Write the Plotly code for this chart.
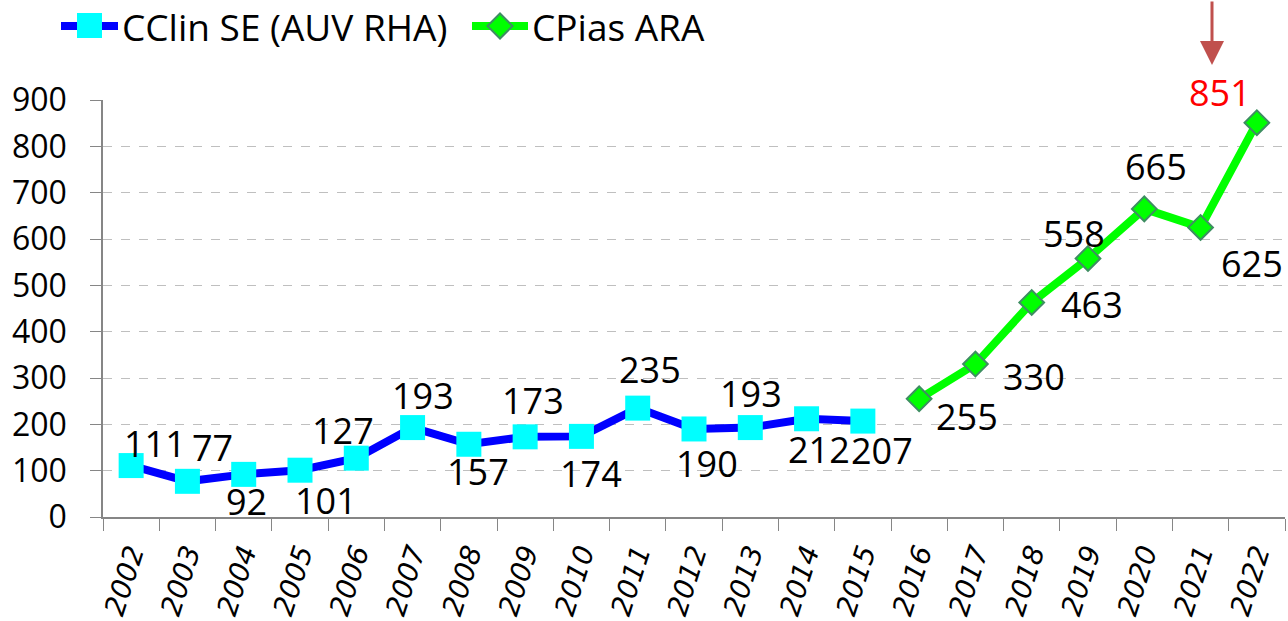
import plotly.graph_objects as go

years = [str(y) for y in range(2002, 2023)]
cclin_years = years[:14]
cclin_values = [111, 77, 92, 101, 127, 193, 157, 173, 174, 235, 190, 193, 212, 207]
cpias_years = years[14:]
cpias_values = [255, 330, 463, 558, 665, 625, 851]
y_ticks = [0, 100, 200, 300, 400, 500, 600, 700, 800, 900]

# label offsets in pixels (dx right, dy down) relative to the marker
cclin_offsets = [(24, -22), (25, -34), (3, 27), (26, 30), (-13, -28), (10, -32),
                 (9, 27), (8, -36), (10, 37), (12, -39), (13, 35), (1, -34),
                 (12, 31), (19, 29)]
cpias_offsets = [(48, 18), (59, 12), (60, 2), (-14, -25), (12, -42), (51, 36), (-37, -30)]

W, H = 1288, 621
L, R, T, B = 103, 3, 100, 104
PW, PH = W - L - R, H - T - B


def px(x):
    return (x - L) / PW


def py(y):
    return (H - B - y) / PH


FONT = "Open Sans"

fig = go.Figure()
fig.add_trace(go.Scatter(
    x=cclin_years, y=cclin_values, mode="lines+markers", name="CClin SE (AUV RHA)",
    line=dict(color="#0000FF", width=8),
    marker=dict(symbol="square", size=25, color="#00FFFF", line=dict(width=0)),
    showlegend=False, cliponaxis=False))
fig.add_trace(go.Scatter(
    x=cpias_years, y=cpias_values, mode="lines+markers", name="CPias ARA",
    line=dict(color="#00FF00", width=8),
    marker=dict(symbol="diamond", size=19, color="#00FF00", line=dict(width=2, color="#3E8E62")),
    showlegend=False, cliponaxis=False))

annotations = []
for xs, vs, offs in [(cclin_years, cclin_values, cclin_offsets), (cpias_years, cpias_values, cpias_offsets)]:
    for x, v, (dx, dy) in zip(xs, vs, offs):
        annotations.append(dict(
            x=years.index(x), y=v, xref="x", yref="y", text=str(v), showarrow=False,
            xshift=dx, yshift=-dy,
            font=dict(family=FONT, size=36, color="red" if v == 851 else "black")))

# manual legend
shapes = []
leg_y = 26
shapes.append(dict(type="line", xref="paper", yref="paper", x0=px(61), x1=px(118), y0=py(leg_y), y1=py(leg_y),
                   line=dict(color="#0000FF", width=8), layer="above"))
shapes.append(dict(type="rect", xref="paper", yref="paper", x0=px(77), x1=px(102), y0=py(13), y1=py(38),
                   fillcolor="#00FFFF", line=dict(width=0), layer="above"))
annotations.append(dict(x=px(120), y=py(leg_y), xref="paper", yref="paper", xanchor="left", yanchor="middle",
                        text="CClin SE (AUV RHA)", showarrow=False, font=dict(family=FONT, size=37, color="black")))
shapes.append(dict(type="line", xref="paper", yref="paper", x0=px(472), x1=px(528), y0=py(leg_y), y1=py(leg_y),
                   line=dict(color="#00FF00", width=8), layer="above"))
cx, cy, hw = 500, leg_y, 12.5
shapes.append(dict(type="path", xref="paper", yref="paper",
                   path=f"M {px(cx - hw)} {py(cy)} L {px(cx)} {py(cy - hw)} L {px(cx + hw)} {py(cy)} L {px(cx)} {py(cy + hw)} Z",
                   fillcolor="#00FF00", line=dict(width=2, color="#3E8E62"), layer="above"))
annotations.append(dict(x=px(530), y=py(leg_y), xref="paper", yref="paper", xanchor="left", yanchor="middle",
                        text="CPias ARA", showarrow=False, font=dict(family=FONT, size=37, color="black")))

# arrow pointing to the 2022 value
annotations.append(dict(x=px(1212), y=py(65), xref="paper", yref="paper", ax=0, ay=-67,
                        axref="pixel", ayref="pixel", text="", showarrow=True,
                        arrowhead=2, arrowsize=1.6, arrowwidth=3, arrowcolor="#C0504D"))

fig.update_layout(
    width=W, height=H,
    margin=dict(l=L, r=R, t=T, b=B, autoexpand=False),
    paper_bgcolor="white", plot_bgcolor="white",
    showlegend=False,
    annotations=annotations, shapes=shapes,
    font=dict(family=FONT, color="black"),
)
fig.update_xaxes(
    type="category", categoryorder="array", categoryarray=years, range=[-0.5, 20.5],
    tickson="boundaries", ticks="outside", ticklen=12, tickcolor="#868686", tickwidth=1,
    showline=True, linecolor="#868686", linewidth=1.5, showgrid=False,
    tickangle=-72, tickfont=dict(family="DejaVu Sans", size=28, style="italic", color="black"),
    ticklabelstandoff=7,
    automargin=False,
)
fig.update_yaxes(
    range=[0, 900], tickvals=y_ticks, ticks="outside", ticklen=11, tickcolor="#868686",
    showline=True, linecolor="#868686", linewidth=1.5,
    showgrid=True, gridcolor="#BFBFBF", griddash="dash", gridwidth=1, zeroline=False,
    tickfont=dict(family=FONT, size=32, color="black"), ticklabelstandoff=17,
    automargin=False,
)

fig.write_html("out.html", config={"displayModeBar": False},
               post_script="document.body.style.margin='0';document.body.style.overflow='hidden';")
